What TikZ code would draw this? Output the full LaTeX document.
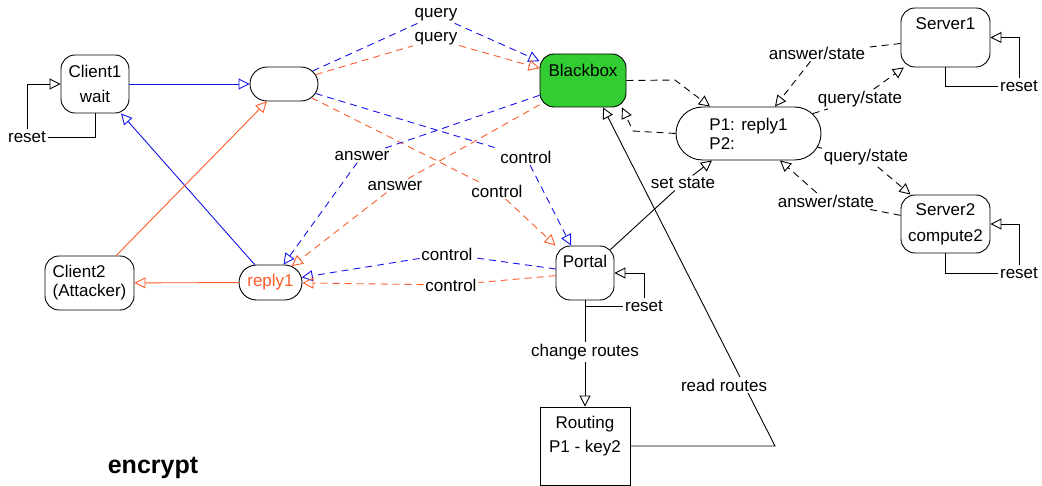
\documentclass[tikz,border=0pt]{standalone}
\usepackage{fontspec}
\setmainfont{Liberation Sans}
\usetikzlibrary{arrows.meta,shapes.misc}

\definecolor{lineblue}{RGB}{20,20,235}
\definecolor{lineorange}{RGB}{255,90,40}
\definecolor{boxgreen}{RGB}{50,205,50}

\begin{document}
\begin{tikzpicture}[x=1pt, y=-1pt, line width=0.9pt,
    font=\fontsize{17}{19}\selectfont,
    >={Triangle[open,length=11pt,width=11pt]},
    roundbox/.style={draw, rounded corners=14pt, inner sep=0pt},
    pillbox/.style={draw, rounded rectangle, inner sep=0pt},
    toplabel/.style={anchor=north, inner sep=0pt, align=center},
    edgelabel/.style={fill=white, inner sep=1.5pt},
    bluedash/.style={draw=lineblue, dash pattern=on 7pt off 5pt},
    orangedash/.style={draw=lineorange, dash pattern=on 7pt off 5pt},
    blackdash/.style={dash pattern=on 7pt off 5pt}]

    \useasboundingbox (0,0) rectangle (1042,486);

    % states
    \node [roundbox, minimum width=68pt, minimum height=58pt, align=center,
    font=\fontsize{17}{25}\selectfont] (client1) at (95,84) {Client1\\wait};

    \node [pillbox, minimum width=68pt, minimum height=34pt] (mid) at (284,84) {};

    \node [roundbox, fill=boxgreen, minimum width=86pt, minimum height=53pt,
    label={[toplabel,yshift=-10pt]north:Blackbox}] (bb) at (583,80.5) {};

    \node [pillbox, minimum width=145pt, minimum height=53pt,
    align=left] (p1) at (748.5,133.5) {P1: reply1\\P2:};

    \node [roundbox, minimum width=89pt, minimum height=59pt,
    label={[toplabel,yshift=-9.5pt]north:Server1}] (s1) at (945.5,37.5) {};

    \node [roundbox, minimum width=89pt, minimum height=58pt, align=center,
    font=\fontsize{17}{26}\selectfont] (s2) at (945.5,224) {Server2\\compute2};

    \node [roundbox, minimum width=89pt, minimum height=54pt,
    align=left] (client2) at (89.5,283) {Client2\\(Attacker)};

    \node [pillbox, minimum width=63pt, minimum height=35pt,
    text=lineorange] (reply) at (270.5,282.5) {reply1};

    \node [roundbox, minimum width=58pt, minimum height=54pt,
    label={[toplabel,yshift=-9pt]north:Portal}] (portal) at (585,273) {};

    \node [draw, inner sep=0pt, minimum width=90pt, minimum height=78pt,
    label={[toplabel,yshift=-9.3pt,font=\fontsize{17}{24}\selectfont]north:{Routing\\P1 - key2}}]
    (rt) at (585,446) {};

    \node [font=\fontsize{25}{28}\selectfont\bfseries] (enc) at (153,468) {encrypt};

    % edge labels
    \node [edgelabel] (qB) at (436,15) {query};
    \node [edgelabel] (qO) at (436,39) {query};
    \node [edgelabel] (cB1) at (526,157) {control};
    \node [edgelabel] (cO1) at (497,191) {control};
    \node [edgelabel] (aB) at (362,156) {answer};
    \node [edgelabel] (aO) at (395,186) {answer};
    \node [edgelabel] (cB2) at (447,254) {control};
    \node [edgelabel] (cO2) at (451,285) {control};
    \node [edgelabel] (aS1) at (817,53) {answer/state};
    \node [edgelabel] (qS1) at (860,99) {query/state};
    \node [edgelabel] (qS2) at (866,157) {query/state};
    \node [edgelabel] (aS2) at (826,201) {answer/state};
    \node [edgelabel] (lset) at (683,183) {set state};
    \node [edgelabel] (lchg) at (585,352) {change routes};
    \node [edgelabel] (rC) at (27,137) {reset};
    \node [edgelabel] (rS1) at (1019,86) {reset};
    \node [edgelabel] (rS2) at (1019,273) {reset};
    \node [edgelabel] (rP) at (644,306) {reset};

    \coordinate (bbc) at (675,80);
    \coordinate (p1c) at (633,131);
    \coordinate (rtc) at (775,446);

    % clients
    \draw [lineblue, ->] (client1) -- (mid);
    \draw [lineblue, ->] (reply) -- (client1);
    \draw [lineorange, ->] (client2) -- (mid);
    \draw [lineorange, ->] (reply) -- (client2);

    % traffic
    \draw [bluedash, ->] (mid) -- (qB) -- (bb);
    \draw [orangedash, ->] (mid) -- (qO) -- (bb);
    \draw [bluedash, ->] (mid) -- (cB1) -- (portal);
    \draw [orangedash, ->] (mid) -- (cO1) -- (portal);
    \draw [bluedash, ->] (bb) -- (aB) -- (reply);
    \draw [orangedash, ->] (bb) -- (aO) -- (reply);
    \draw [bluedash, ->] (portal) -- (cB2) -- (reply);
    \draw [orangedash, ->] (portal) -- (cO2) -- (reply);

    \draw [blackdash, ->] (bb.east) -- (bbc) -- ([xshift=-38.5pt]p1.north);
    \draw [blackdash, ->] (p1.west) -- (p1c) -- ([xshift=39pt]bb.south);

    % servers
    \draw [blackdash, ->] ([yshift=-6pt]s1.west) -- (aS1) -- ([xshift=26.5pt]p1.north);
    \draw [blackdash, ->] (p1) -- (qS1) -- (s1);
    \draw [blackdash, ->] (p1) -- (qS2) -- (s2);
    \draw [blackdash, ->] (s2) -- (aS2) -- ([xshift=31.5pt]p1.south);

    \draw [->] ([xshift=-4pt,yshift=-4pt]portal.north east) -- (lset)
    -- ([xshift=-36.5pt]p1.south);

    % resets
    \draw (client1.south) |- (rC);
    \draw [->] (rC) |- (client1.west);
    \draw (s1.south) |- (rS1);
    \draw [->] (rS1) |- (s1.east);
    \draw (s2.south) |- (rS2);
    \draw [->] (rS2) |- (s2.east);
    \draw (portal.south) |- (rP);
    \draw [->] (rP) |- (portal.east);

    % routing
    \draw [->] (portal) -- (lchg) -- (rt);
    \draw [->] (rt.east) -- (rtc) -- node [edgelabel, pos=0.18, xshift=-20pt]
    (lread) {read routes} ([xshift=20pt]bb.south);
  \end{tikzpicture}
\end{document}
